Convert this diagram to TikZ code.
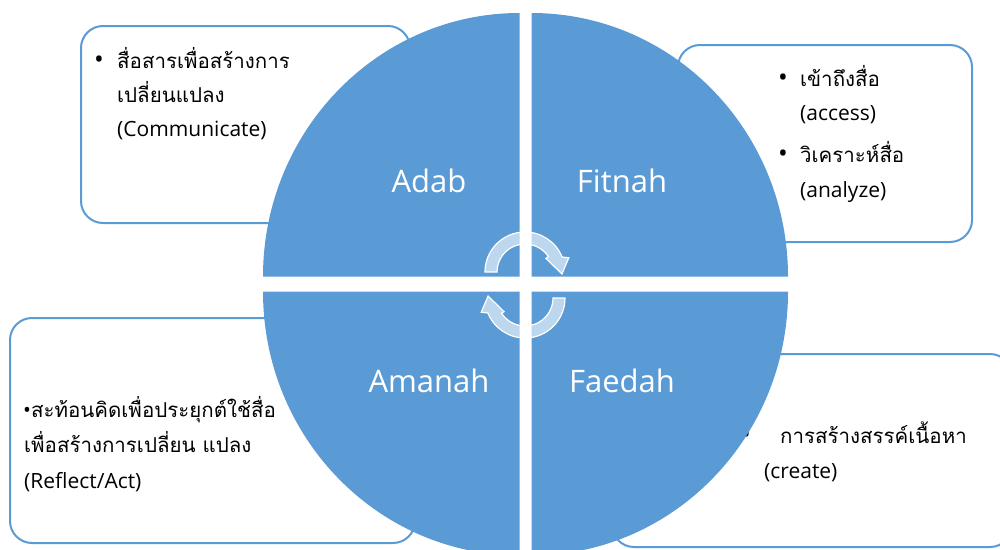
\documentclass[tikz,border=0pt]{standalone}
\usepackage{fontspec}
\setmainfont{Open Sans}
\newfontfamily\thaifont[Script=Thai]{Loma}
\definecolor{quadblue}{HTML}{5B9BD5}
\newcommand\listdot[1]{\makebox[#1][l]{\normalfont\fontsize{26}{26}\selectfont\textbullet}}

\begin{document}
\begin{tikzpicture}[x=1pt, y=1pt,
    textbox/.style={draw=quadblue, line width=2pt, fill=white, rounded corners=22pt},
    quad/.style={fill=quadblue},
    quad label/.style={anchor=base, text=white, font=\fontsize{31}{31}\selectfont},
    thai line/.style={anchor=base west, inner sep=0pt, text=black, font=\thaifont\fontsize{20.5}{20.5}\selectfont},
    latin line/.style={anchor=base west, inner sep=0pt, text=black, font=\fontsize{21}{21}\selectfont},
    turn arrow/.style={fill=white, fill opacity=0.6, draw=white, line width=1.2pt}]
    \useasboundingbox (0,0) rectangle (1000,-549);
    \clip (0,0) rectangle (1000,-549);

    \draw[textbox] (81,-26) rectangle (410,-223);
    \draw[textbox] (678,-45) rectangle (972,-242);
    \draw[textbox] (10,-318) rectangle (415,-543);
    \draw[textbox] (612,-354) rectangle (1012,-547);

    \node[thai line] (Communicate line1) at (94,-68) {\listdot{23pt}สื่อสารเพื่อสร้างการ};
    \node[thai line] (Communicate line2) at (117,-102) {เปลี่ยนแปลง};
    \node[latin line] (Communicate line3) at (117,-136) {(Communicate)};

    \node[thai line] (Access line1) at (778,-86) {\listdot{22pt}เข้าถึงสื่อ};
    \node[latin line] (Access line2) at (800,-120) {(access)};
    \node[thai line] (Analyze line1) at (778,-162) {\listdot{22pt}วิเคราะห์สื่อ};
    \node[latin line] (Analyze line2) at (800,-197) {(analyze)};

    \node[thai line] (Reflect line1) at (23,-417) {{\normalfont\fontsize{21}{21}\selectfont\textbullet}สะท้อนคิดเพื่อประยุกต์ใช้สื่อ};
    \node[thai line] (Reflect line2) at (24,-452) {เพื่อสร้างการเปลี่ยน แปลง};
    \node[latin line] (Reflect line3) at (24,-488) {(Reflect/Act)};

    \node[thai line] (Create line1) at (741,-443) {\listdot{39pt}การสร้างสรรค์เนื้อหา};
    \node[latin line] (Create line2) at (764,-478) {(create)};

    \fill[quad] (519.5,-276.7) -- ++(-256.5,0) arc[start angle=180, end angle=90, x radius=256.5, y radius=263.7] -- cycle;
    \fill[quad] (531.5,-276.7) -- ++(0,263.7) arc[start angle=90, end angle=0, x radius=256.5, y radius=263.7] -- cycle;
    \fill[quad] (519.5,-291.7) -- ++(-256.5,0) arc[start angle=180, end angle=270, x radius=256.5, y radius=263.7] -- cycle;
    \fill[quad] (531.5,-291.7) -- ++(256.5,0) arc[start angle=0, end angle=-90, x radius=256.5, y radius=263.7] -- cycle;

    \node[quad label] (Adab node) at (429,-192) {Adab};
    \node[quad label] (Fitnah node) at (622,-192) {Fitnah};
    \node[quad label] (Amanah node) at (429,-392) {Amanah};
    \node[quad label] (Faedah node) at (622,-392) {Faedah};

    \foreach \cx/\cy/\turn in {525/-272/0, 525/-298/180} {
        \begin{scope}[shift={(\cx,\cy)}, rotate=\turn]
            \filldraw[turn arrow] (180:40) arc[start angle=180, end angle=22, radius=40]
                -- (18:46) -- (-3:37) -- (33:25) -- (33:28)
                arc[start angle=33, end angle=180, radius=28] -- cycle;
        \end{scope}
    }
\end{tikzpicture}
\end{document}
